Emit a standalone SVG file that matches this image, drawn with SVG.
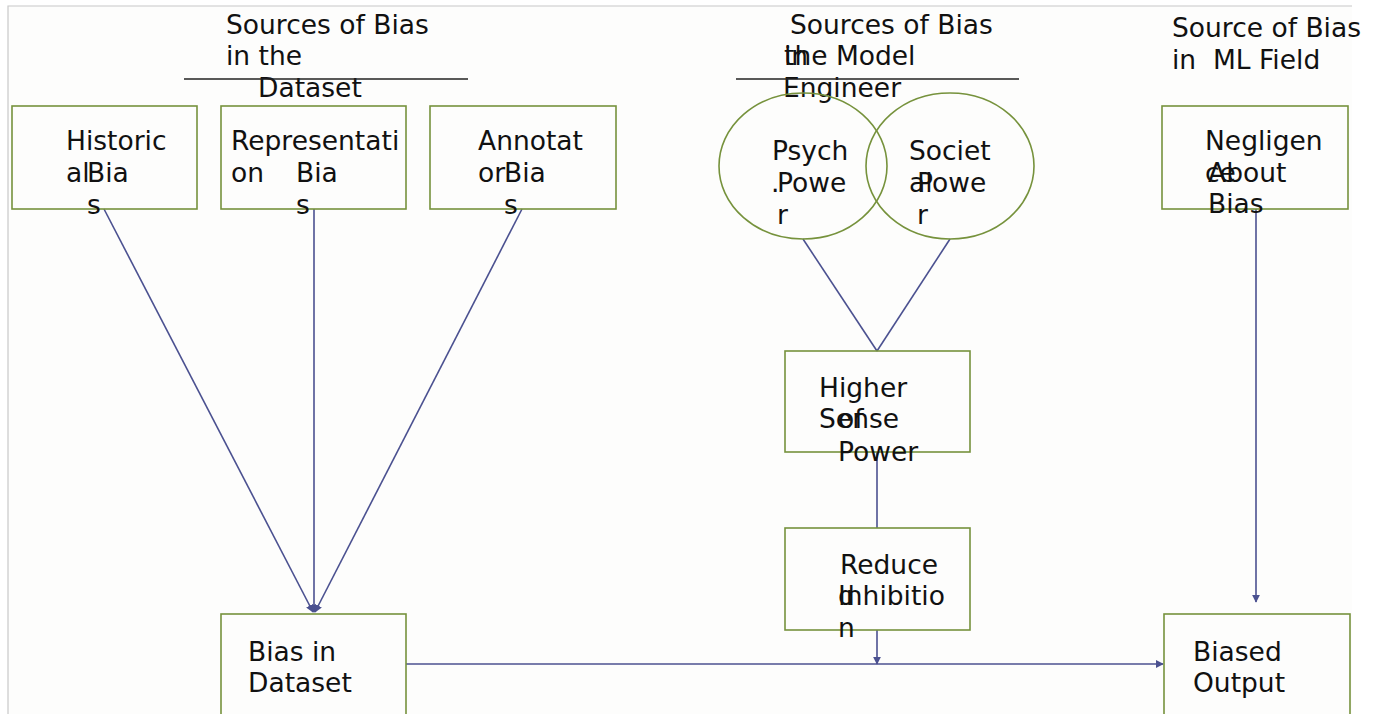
<svg xmlns="http://www.w3.org/2000/svg" width="1382" height="714" viewBox="0 0 1382 714">
<style>
text{font-family:"DejaVu Sans",Verdana,sans-serif;font-size:26.5px;fill:#111}
.box{fill:none;stroke:#76923c;stroke-width:1.6}
.con{stroke:#4b5190;stroke-width:1.6;fill:none}
.rule{stroke:#222;stroke-width:1.6}
</style>
<defs>
<marker id="ah" viewBox="0 0 10 10" refX="9" refY="5" markerWidth="8" markerHeight="8" markerUnits="userSpaceOnUse" orient="auto">
<path d="M0,0 L10,5 L0,10 z" fill="#4b5190"/>
</marker>
</defs>
<rect x="0" y="0" width="1382" height="714" fill="#fff"/>
<rect x="8" y="6" width="1344" height="708" fill="#fdfdfc"/>
<path d="M8,714 V6 H1352" stroke="#c8c8c8" stroke-width="1.2" fill="none"/>

<g id="title-dataset">
<text x="226" y="34">Sources of Bias</text>
<text x="226" y="65">in the</text>
<text x="258" y="97">Dataset</text>
<line class="rule" x1="184" y1="79" x2="468" y2="79"/>
</g>
<g id="title-engineer">
<text x="790" y="34">Sources of Bias</text>
<text x="784" y="65">in</text>
<text x="784" y="65">the Model</text>
<text x="783" y="97">Engineer</text>
<line class="rule" x1="736" y1="79" x2="1019" y2="79"/>
</g>
<g id="title-field">
<text x="1172" y="37">Source of Bias</text>
<text x="1172" y="69">in</text>
<text x="1213" y="69">ML Field</text>
</g>

<g id="connectors">
<line class="con" x1="104" y1="209" x2="313" y2="612" marker-end="url(#ah)"/>
<line class="con" x1="314" y1="209" x2="314" y2="612" marker-end="url(#ah)"/>
<line class="con" x1="522" y1="209" x2="315" y2="612" marker-end="url(#ah)"/>
<line class="con" x1="803" y1="239" x2="877" y2="351"/>
<line class="con" x1="950" y1="239" x2="877" y2="351"/>
<line class="con" x1="877" y1="452" x2="877" y2="528"/>
<line class="con" x1="877" y1="630" x2="877" y2="664" marker-end="url(#ah)"/>
<line class="con" x1="406" y1="664" x2="1163" y2="664" marker-end="url(#ah)"/>
<line class="con" x1="1256" y1="209" x2="1256" y2="602" marker-end="url(#ah)"/>
</g>

<g id="historical">
<rect class="box" x="12" y="106" width="185" height="103"/>
<text x="66" y="150">Historic</text>
<text x="66" y="182">al</text>
<text x="87" y="182">Bia</text>
<text x="87" y="214">s</text>
</g>
<g id="representation">
<rect class="box" x="221" y="106" width="185" height="103"/>
<text x="231" y="150">Representati</text>
<text x="231" y="182">on</text>
<text x="296" y="182">Bia</text>
<text x="296" y="214">s</text>
</g>
<g id="annotator">
<rect class="box" x="430" y="106" width="186" height="103"/>
<text x="478" y="150">Annotat</text>
<text x="478" y="182">or</text>
<text x="504" y="182">Bia</text>
<text x="504" y="214">s</text>
</g>
<g id="psych">
<ellipse class="box" cx="803" cy="166" rx="84" ry="73"/>
<text x="772" y="160">Psych</text>
<text x="771" y="192">.</text>
<text x="777" y="192">Powe</text>
<text x="777" y="224">r</text>
</g>
<g id="societal">
<ellipse class="box" cx="950" cy="166" rx="84" ry="73"/>
<text x="909" y="160">Societ</text>
<text x="909" y="192">al</text>
<text x="917" y="192">Powe</text>
<text x="917" y="224">r</text>
</g>
<g id="negligence">
<rect class="box" x="1162" y="106" width="186" height="103"/>
<text x="1205" y="150">Negligen</text>
<text x="1205" y="182">ce</text>
<text x="1208" y="182">About</text>
<text x="1208" y="213">Bias</text>
</g>
<g id="higher">
<rect class="box" x="785" y="351" width="185" height="101"/>
<text x="819" y="397">Higher</text>
<text x="819" y="428">Sense</text>
<text x="838" y="428">of</text>
<text x="838" y="461">Power</text>
</g>
<g id="reduce">
<rect class="box" x="785" y="528" width="185" height="102"/>
<text x="840" y="574">Reduce</text>
<text x="838" y="605">d</text>
<text x="838" y="605">Inhibitio</text>
<text x="838" y="637">n</text>
</g>
<g id="bias-dataset">
<rect class="box" x="221" y="614" width="185" height="110"/>
<text x="248" y="661">Bias in</text>
<text x="248" y="692">Dataset</text>
</g>
<g id="biased-output">
<rect class="box" x="1164" y="614" width="186" height="110"/>
<text x="1193" y="661">Biased</text>
<text x="1193" y="692">Output</text>
</g>
</svg>
